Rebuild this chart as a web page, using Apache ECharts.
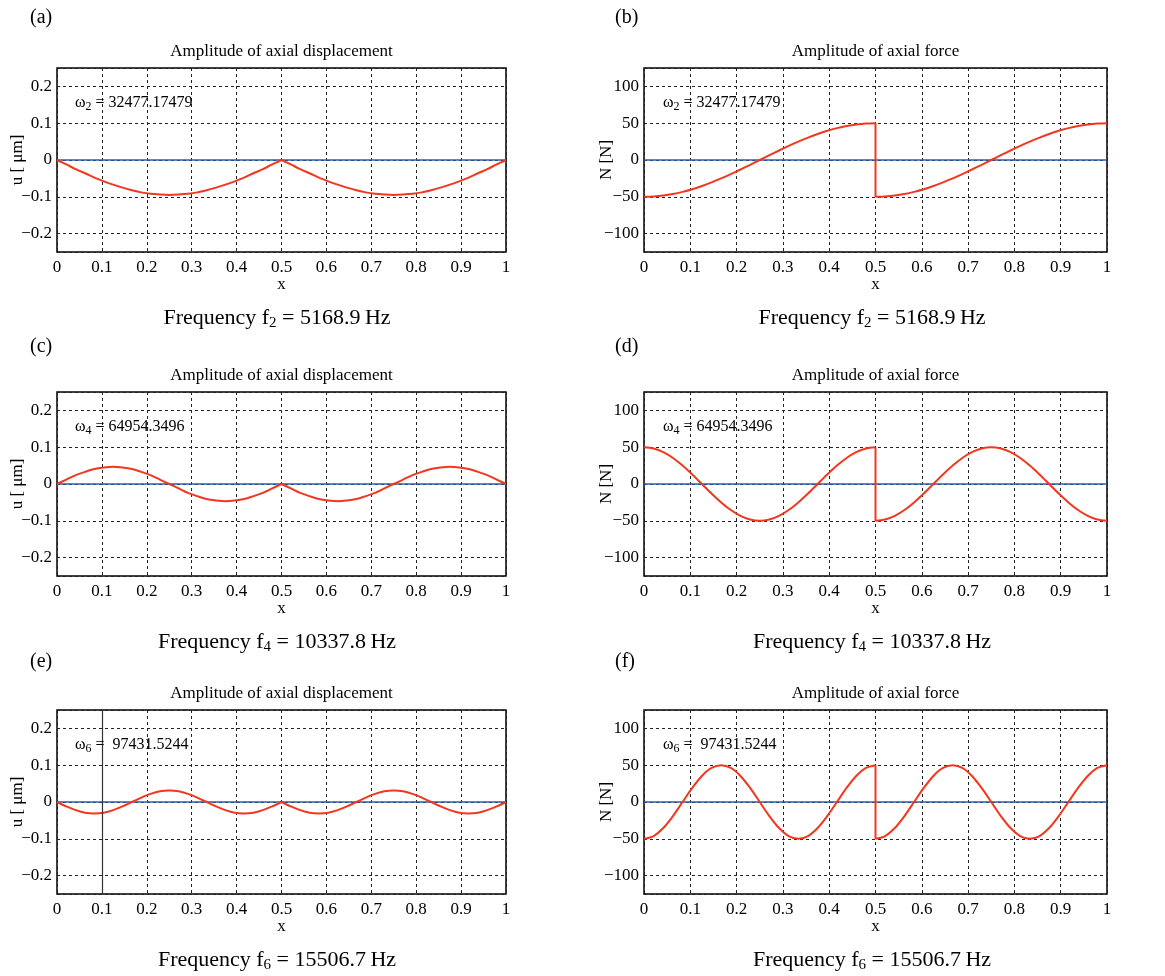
<!DOCTYPE html>
<html>
<head>
<meta charset="utf-8">
<script src="https://cdn.jsdelivr.net/npm/echarts@6/dist/echarts.min.js"></script>
<style>
  html, body { margin: 0; padding: 0; background: #fff; }
  #main { width: 1165px; height: 976px; }
</style>
</head>
<body>
<div id="main"></div>
<script>
// x positions along the bar (step 1/48), each half separately (jump / cusp at 0.5)
const xLeft = [0, 0.0208, 0.0417, 0.0625, 0.0833, 0.1042, 0.125, 0.1458, 0.1667, 0.1875,
  0.2083, 0.2292, 0.25, 0.2708, 0.2917, 0.3125, 0.3333, 0.3542, 0.375, 0.3958,
  0.4167, 0.4375, 0.4583, 0.4792, 0.5];
const xRight = [0.5, 0.5208, 0.5417, 0.5625, 0.5833, 0.6042, 0.625, 0.6458, 0.6667, 0.6875,
  0.7083, 0.7292, 0.75, 0.7708, 0.7917, 0.8125, 0.8333, 0.8542, 0.875, 0.8958,
  0.9167, 0.9375, 0.9583, 0.9792, 1];
const xEnds = [0, 1];

// (a) displacement, mode 2 [um]
const uA_L = [0, -0.012, -0.025, -0.036, -0.048, -0.058, -0.067, -0.075, -0.082, -0.088, -0.092, -0.094, -0.095,
  -0.094, -0.092, -0.088, -0.082, -0.075, -0.067, -0.058, -0.048, -0.036, -0.025, -0.012, 0];
const uA_R = [0, -0.012, -0.025, -0.036, -0.048, -0.058, -0.067, -0.075, -0.082, -0.088, -0.092, -0.094, -0.095,
  -0.094, -0.092, -0.088, -0.082, -0.075, -0.067, -0.058, -0.048, -0.036, -0.025, -0.012, 0];
// (b) force, mode 2 [N]
const nB_L = [-50, -49.6, -48.3, -46.2, -43.3, -39.7, -35.4, -30.4, -25, -19.1, -12.9, -6.5, 0,
  6.5, 12.9, 19.1, 25, 30.4, 35.4, 39.7, 43.3, 46.2, 48.3, 49.6, 50];
const nB_R = [-50, -49.6, -48.3, -46.2, -43.3, -39.7, -35.4, -30.4, -25, -19.1, -12.9, -6.5, 0,
  6.5, 12.9, 19.1, 25, 30.4, 35.4, 39.7, 43.3, 46.2, 48.3, 49.6, 50];
// (c) displacement, mode 4
const uC_L = [0, 0.012, 0.024, 0.033, 0.041, 0.045, 0.047, 0.045, 0.041, 0.033, 0.024, 0.012, 0,
  -0.012, -0.024, -0.033, -0.041, -0.045, -0.047, -0.045, -0.041, -0.033, -0.024, -0.012, 0];
const uC_R = [0, -0.012, -0.024, -0.033, -0.041, -0.045, -0.047, -0.045, -0.041, -0.033, -0.024, -0.012, 0,
  0.012, 0.024, 0.033, 0.041, 0.045, 0.047, 0.045, 0.041, 0.033, 0.024, 0.012, 0];
// (d) force, mode 4
const nD_L = [50, 48.3, 43.3, 35.4, 25, 12.9, 0, -12.9, -25, -35.4, -43.3, -48.3, -50,
  -48.3, -43.3, -35.4, -25, -12.9, 0, 12.9, 25, 35.4, 43.3, 48.3, 50];
const nD_R = [-50, -48.3, -43.3, -35.4, -25, -12.9, 0, 12.9, 25, 35.4, 43.3, 48.3, 50,
  48.3, 43.3, 35.4, 25, 12.9, 0, -12.9, -25, -35.4, -43.3, -48.3, -50];
// (e) displacement, mode 6
const uE_L = [0, -0.012, -0.022, -0.029, -0.031, -0.029, -0.022, -0.012, 0, 0.012, 0.022, 0.029, 0.031,
  0.029, 0.022, 0.012, 0, -0.012, -0.022, -0.029, -0.031, -0.029, -0.022, -0.012, 0];
const uE_R = [0, -0.012, -0.022, -0.029, -0.031, -0.029, -0.022, -0.012, 0, 0.012, 0.022, 0.029, 0.031,
  0.029, 0.022, 0.012, 0, -0.012, -0.022, -0.029, -0.031, -0.029, -0.022, -0.012, 0];
// (f) force, mode 6
const nF_L = [-50, -46.2, -35.4, -19.1, 0, 19.1, 35.4, 46.2, 50, 46.2, 35.4, 19.1, 0,
  -19.1, -35.4, -46.2, -50, -46.2, -35.4, -19.1, 0, 19.1, 35.4, 46.2, 50];
const nF_R = [-50, -46.2, -35.4, -19.1, 0, 19.1, 35.4, 46.2, 50, 46.2, 35.4, 19.1, 0,
  -19.1, -35.4, -46.2, -50, -46.2, -35.4, -19.1, 0, 19.1, 35.4, 46.2, 50];

const letters = ["(a)", "(b)", "(c)", "(d)", "(e)", "(f)"];
const modeNums = ["2", "2", "4", "4", "6", "6"];
const omegas = [" = 32477.17479", " = 32477.17479", " = 64954.3496", " = 64954.3496", " =  97431.5244", " =  97431.5244"];
const freqs = [" = 5168.9\u2009Hz", " = 5168.9\u2009Hz", " = 10337.8\u2009Hz", " = 10337.8\u2009Hz", " = 15506.7\u2009Hz", " = 15506.7\u2009Hz"];
const leftHalves = [uA_L, nB_L, uC_L, nD_L, uE_L, nF_L];
const rightHalves = [uA_R, nB_R, uC_R, nD_R, uE_R, nF_R];

const FONT = "'Liberation Serif', 'Times New Roman', serif";
const RED = "#f3361e";
const BLUE = "#2a5ea8";

const colLeft = [57, 644];
const colWidth = [449, 463];
const rowTop = [68, 392, 710];
const plotH = 184;

let grids = [], xAxes = [], yAxes = [], series = [], graphics = [];

function minus(v) {
  return String(v).replace("-", "\u2212");
}

for (let i = 0; i < 6; i++) {
  let col = i % 2;
  let row = Math.floor(i / 2);
  let isForce = col === 1;
  let yMax = isForce ? 125 : 0.25;
  let left = colLeft[col];
  let top = rowTop[row];
  let w = colWidth[col];
  let cx = left + w / 2;

  grids.push({
    left: left, top: top, width: w, height: plotH,
    show: true, borderColor: "#000", borderWidth: 1.5, backgroundColor: "#fff"
  });
  xAxes.push({
    gridIndex: i, type: "value", min: 0, max: 1, interval: 0.1,
    name: "x", nameLocation: "middle", nameGap: 24, nameMoveOverlap: false,
    nameTextStyle: { fontFamily: FONT, fontSize: 17, color: "#000" },
    axisLine: { show: false }, axisTick: { show: false },
    axisLabel: {
      fontFamily: FONT, fontSize: 17, color: "#000", margin: 7,
      formatter: function (v) { return minus(+v.toFixed(1)); }
    },
    splitLine: { show: true, lineStyle: { color: "#222", width: 1, type: [3, 3] } }
  });
  yAxes.push({
    gridIndex: i, type: "value", min: -yMax, max: yMax, splitNumber: 5,
    name: isForce ? "N [N]" : "u [ \u03bcm]", nameLocation: "middle",
    nameGap: isForce ? 29 : 31, nameMoveOverlap: false,
    nameTextStyle: { fontFamily: FONT, fontSize: 17, color: "#000" },
    axisLine: { show: false }, axisTick: { show: false },
    axisLabel: {
      fontFamily: FONT, fontSize: 17, color: "#000", margin: 5,
      showMinLabel: false, showMaxLabel: false,
      formatter: function (v) {
        if (Math.abs(v) > yMax * 0.95) return "";
        return minus(isForce ? v : +v.toFixed(1));
      }
    },
    splitLine: { show: true, lineStyle: { color: "#222", width: 1, type: [3, 3] } }
  });

  let L = leftHalves[i];
  let R = rightHalves[i];
  let zeroLine = {
    type: "line", xAxisIndex: i, yAxisIndex: i, showSymbol: false, silent: true,
    data: [[xEnds[0], 0], [xEnds[1], 0]],
    lineStyle: { color: BLUE, width: 1.5 }, z: 3
  };
  if (i === 4) {
    // thin vertical line at x = 0.1 in panel (e)
    zeroLine.markLine = {
      silent: true, symbol: "none", label: { show: false },
      lineStyle: { color: "#333", width: 1.2, type: "solid" },
      data: [{ xAxis: 0.1 }]
    };
  }
  series.push(zeroLine);
  series.push({
    type: "line", xAxisIndex: i, yAxisIndex: i, showSymbol: false, smooth: 0.3,
    data: xLeft.map((x, k) => [x, L[k]]),
    lineStyle: { color: RED, width: 2 }, z: 4
  });
  series.push({
    type: "line", xAxisIndex: i, yAxisIndex: i, showSymbol: false, smooth: 0.3,
    data: xRight.map((x, k) => [x, R[k]]),
    lineStyle: { color: RED, width: 2 }, z: 4
  });
  // vertical jump at x = 0.5
  series.push({
    type: "line", xAxisIndex: i, yAxisIndex: i, showSymbol: false,
    data: [[xLeft[24], L[24]], [xRight[0], R[0]]],
    lineStyle: { color: RED, width: 2 }, z: 4
  });

  // panel letter
  graphics.push({
    type: "text", x: col === 0 ? 30 : 615, y: [18, 347, 662][row],
    style: { text: letters[i], font: "20px " + FONT, fill: "#000", verticalAlign: "middle" }
  });
  // title
  graphics.push({
    type: "text", x: cx, y: top - 16,
    style: {
      text: isForce ? "Amplitude of axial force" : "Amplitude of axial displacement",
      font: "17px " + FONT, fill: "#000", align: "center", verticalAlign: "middle"
    }
  });
  // omega annotation
  graphics.push({
    type: "text", x: col === 0 ? 75 : 663, y: top + 35, z: 10,
    style: {
      text: "{a|\u03c9}{s|" + modeNums[i] + "}{a|" + omegas[i] + "}",
      verticalAlign: "middle", fill: "#000",
      rich: {
        a: { fontFamily: FONT, fontSize: 16, lineHeight: 19, fill: "#000" },
        s: { fontFamily: FONT, fontSize: 12, lineHeight: 12, verticalAlign: "bottom", fill: "#000" }
      }
    }
  });
  // frequency caption
  graphics.push({
    type: "text", x: col === 0 ? 277 : 872, y: [318, 642, 960][row],
    style: {
      text: "{a|Frequency f}{s|" + modeNums[i] + "}{a|" + freqs[i] + "}",
      align: "center", verticalAlign: "middle", fill: "#000",
      rich: {
        a: { fontFamily: FONT, fontSize: 22, lineHeight: 26, fill: "#000" },
        s: { fontFamily: FONT, fontSize: 15, lineHeight: 15, verticalAlign: "bottom", fill: "#000" }
      }
    }
  });
}

let chart = echarts.init(document.getElementById("main"));
chart.setOption({
  backgroundColor: "#fff",
  animation: false,
  grid: grids,
  xAxis: xAxes,
  yAxis: yAxes,
  series: series,
  graphic: graphics
});
</script>
</body>
</html>
